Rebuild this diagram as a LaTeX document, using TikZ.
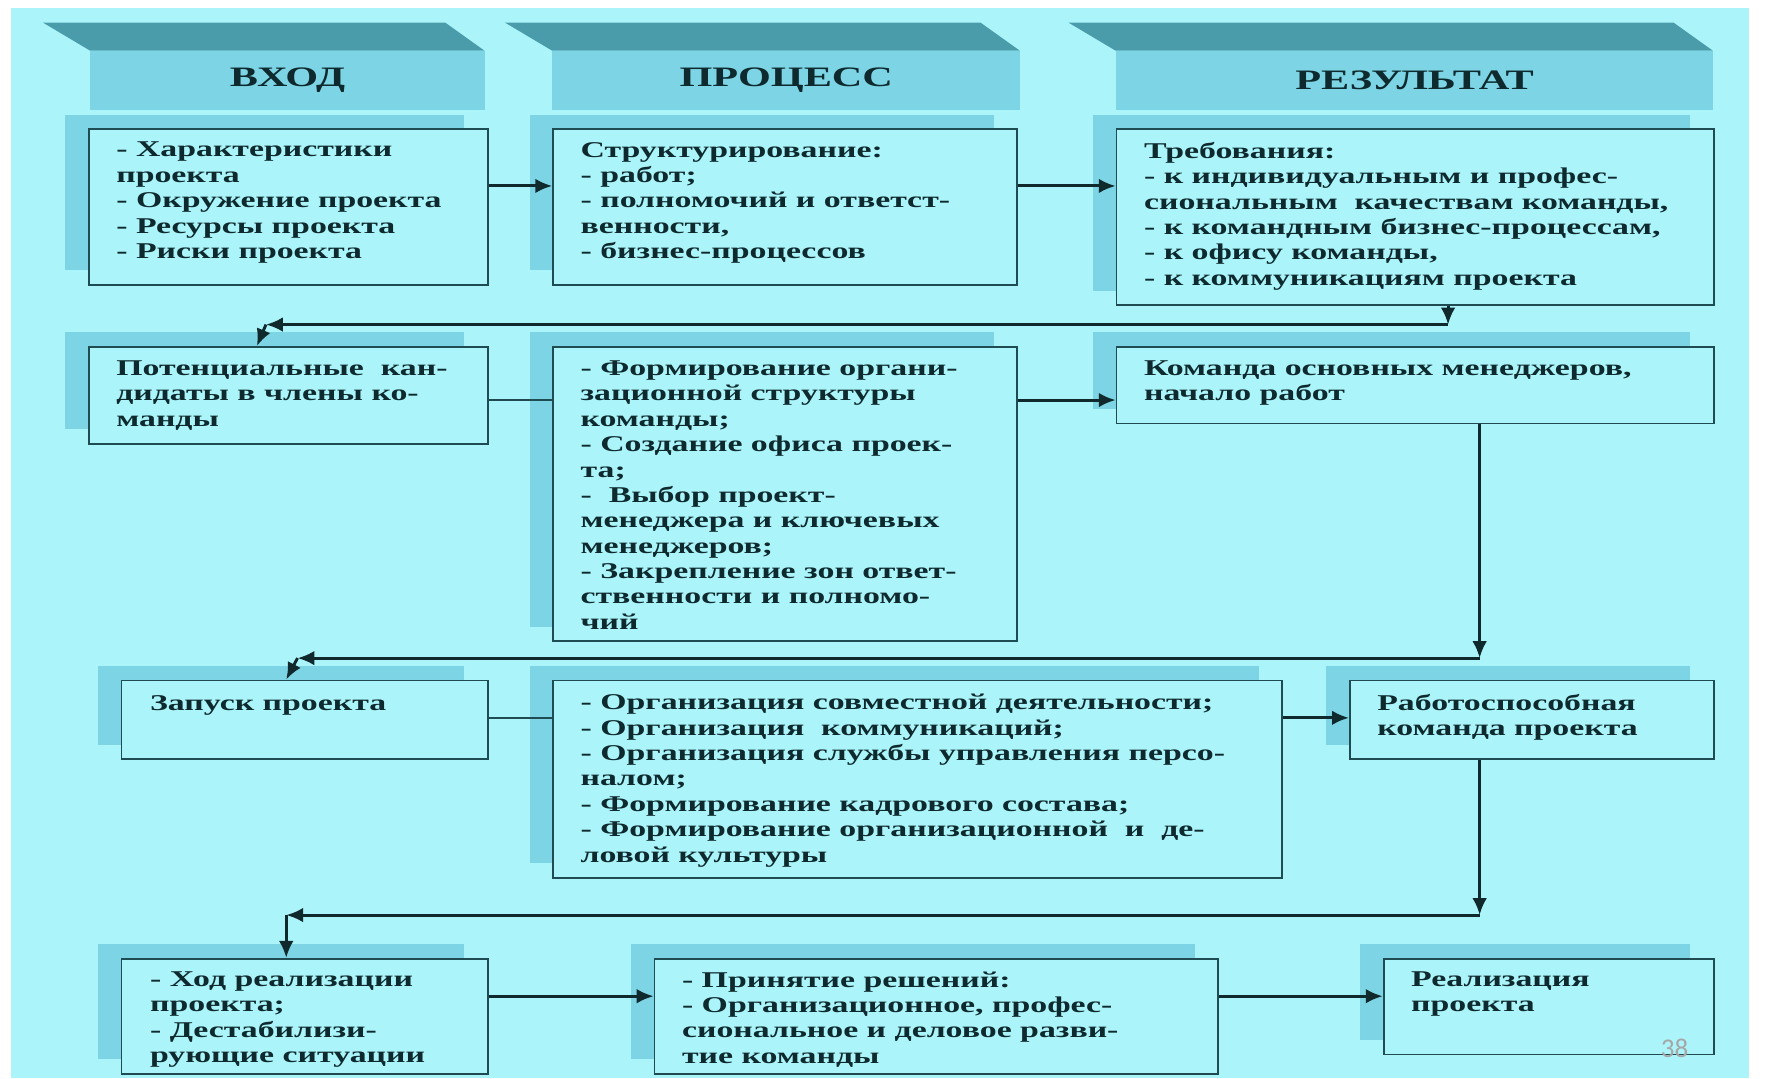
\documentclass[tikz,border=0pt]{standalone}
\usepackage{fontspec}
\setmainfont{Liberation Serif}
\newfontfamily\bxfont[FakeStretch=1.5]{Liberation Serif}
\newfontfamily\pgfont{Carlito}
\usetikzlibrary{arrows.meta}
\definecolor{bg}{HTML}{ABF5FA}
\definecolor{shd}{HTML}{7CD4E4}
\definecolor{bev}{HTML}{4A9CAB}
\definecolor{edge}{HTML}{1F4C52}
\definecolor{ink}{HTML}{0E2A2E}
\definecolor{arrc}{HTML}{10292C}
\newcommand\shbox[5]{%
  \fill[shd] (#2-20,#3-12) rectangle ++(#4,#5);
  \node[box, minimum width=#4pt, minimum height=#5pt] (#1) at (#2,#3) {};}
\newcommand\header[6]{%
  \fill[bev] (#2-42,20) -- (#2+#3-35,20) -- (#2+#3,45) -- (#2,45) -- cycle;
  \node[hdface, minimum width=#3pt] (#1) at (#2,45) {#4};}
\begin{document}
\begin{tikzpicture}[x=1pt,y=-1pt,
  box/.style={draw=edge, line width=1.6pt, fill=bg, anchor=north west, inner sep=0pt},
  hdface/.style={fill=shd, anchor=north west, inner sep=0pt, minimum height=52pt, text=ink,
    font=\bxfont\bfseries\fontsize{25}{30}\selectfont},
  txt/.style={anchor=north west, inner sep=0pt, align=left, text=ink,
    font=\bxfont\bfseries\fontsize{20}{22.5}\selectfont},
  arr/.style={draw=arrc, line width=2.6pt, -{Latex[length=15pt,width=13pt]}},
  thinline/.style={draw=edge, line width=1.3pt}]
\useasboundingbox (0,0) rectangle (1568,957);
\fill[white] (0,0) rectangle (1568,957);
\fill[bg] (10,7) rectangle (1552,957);

% headers
\header{h1}{80}{350}{ВХОД}{}{}
\header{h2}{490}{415}{ПРОЦЕСС}{}{}
\header{h3}{990}{530}{РЕЗУЛЬТАТ}{}{}

% row 1
\shbox{a1}{78}{114}{354}{138}
\shbox{a2}{490}{114}{412}{138}
\shbox{a3}{990}{114}{530}{156}
\node[txt] (a1t) at (103,126) {- Характеристики\\проекта\\- Окружение проекта\\- Ресурсы проекта\\- Риски проекта};
\node[txt] (a2t) at (515,126) {Структурирование:\\- работ;\\- полномочий и ответст-\\венности,\\- бизнес-процессов};
\node[txt] (a3t) at (1015,126) {Требования:\\- к индивидуальным и профес-\\сиональным\ \ качествам команды,\\- к командным бизнес-процессам,\\- к офису команды,\\- к коммуникациям проекта};

% row 2
\shbox{b1}{78}{307}{354}{86}
\shbox{b2}{490}{307}{412}{261}
\shbox{b3}{990}{307}{530}{68}
\node[txt] (b1t) at (103,320) {Потенциальные\ \ кан-\\дидаты в члены ко-\\манды};
\node[txt] (b2t) at (515,320) {- Формирование органи-\\зационной структуры\\команды;\\- Создание офиса проек-\\та;\\-\ \ Выбор проект-\\менеджера и ключевых\\менеджеров;\\- Закрепление зон ответ-\\ственности и полномо-\\чий};
\node[txt] (b3t) at (1015,320) {Команда основных менеджеров,\\начало работ};

% row 3
\shbox{c1}{107}{603}{325}{70}
\shbox{c2}{490}{603}{647}{175}
\shbox{c3}{1197}{603}{323}{70}
\node[txt] (c1t) at (133,617) {Запуск проекта};
\node[txt] (c2t) at (515,616) {- Организация совместной деятельности;\\- Организация\ \ коммуникаций;\\- Организация службы управления персо-\\налом;\\- Формирование кадрового состава;\\- Формирование организационной\ \ и\ \ де-\\ловой культуры};
\node[txt] (c3t) at (1222,616) {Работоспособная\\команда проекта};

% row 4
\shbox{d1}{107}{850}{325}{102}
\shbox{d2}{580}{850}{500}{102}
\shbox{d3}{1227}{850}{293}{85}
\node[txt] (d1t) at (133,862) {- Ход реализации\\проекта;\\- Дестабилизи-\\рующие ситуации};
\node[txt] (d2t) at (605,862) {- Принятие решений:\\- Организационное, профес-\\сиональное и деловое разви-\\тие команды};
\node[txt] (d3t) at (1252,862) {Реализация\\проекта};

% connectors
\draw[arr] (a1.east |- 0,165) -- (a2.west |- 0,165);
\draw[arr] (a2.east |- 0,165) -- (a3.west |- 0,165);
\coordinate (j1) at (1285,288);
\coordinate (k1) at (236,288);
\draw[arr] (a3.south -| j1) -- (j1);
\draw[arr] (j1) -- (k1);
\draw[arr] (k1) -- (b1.north -| 228,0);

\draw[thinline] (b1.east |- 0,355) -- (b2.west |- 0,355);
\draw[arr] (b2.east |- 0,355) -- (b3.west |- 0,355);
\coordinate (j2) at (1313,584);
\coordinate (k2) at (264,584);
\draw[arr] (b3.south -| j2) -- (j2);
\draw[arr] (j2) -- (k2);
\draw[arr] (k2) -- (c1.north -| 254,0);

\draw[thinline] (c1.east |- 0,637) -- (c2.west |- 0,637);
\draw[arr] (c2.east |- 0,637) -- (c3.west |- 0,637);
\coordinate (j3) at (1313,812);
\coordinate (k3) at (254,812);
\draw[arr] (c3.south -| j3) -- (j3);
\draw[arr] (j3) -- (k3);
\draw[arr] (k3) -- (d1.north -| k3);

\draw[arr] (d1.east |- 0,884) -- (d2.west |- 0,884);
\draw[arr] (d2.east |- 0,884) -- (d3.west |- 0,884);

\node[font=\pgfont\fontsize{24}{24}\selectfont, text=black!35, inner sep=0pt] (pg) at (1486,930) {38};
\end{tikzpicture}
\end{document}
